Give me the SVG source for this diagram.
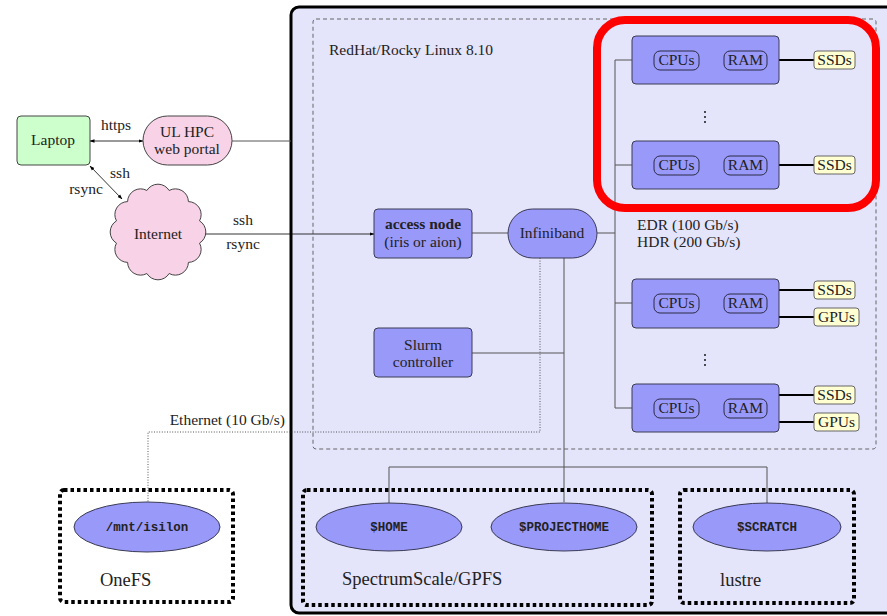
<svg xmlns="http://www.w3.org/2000/svg" width="887" height="616" viewBox="0 0 887 616">
<defs>
<marker id="ah" viewBox="0 0 10 10" refX="9" refY="5" markerWidth="5" markerHeight="5" orient="auto-start-reverse" markerUnits="userSpaceOnUse"><path d="M0,1.5 L10,5 L0,8.5 Z" fill="#000"/></marker>
<style>
text{font-family:"Liberation Serif","DejaVu Serif",serif;font-size:15.5px;fill:#222}
.c{text-anchor:middle}
.big{font-size:18.5px}
.mono{font-family:"Liberation Mono","DejaVu Sans Mono",monospace;font-size:12.5px;font-weight:bold;fill:#222}
.node{fill:#9999fa;stroke:#3a3a55;stroke-width:1}
.pill{fill:none;stroke:#2a2a45;stroke-width:1}
.ssd{fill:#ffffd2;stroke:#666;stroke-width:1}
.ln{fill:none;stroke:#555;stroke-width:1}
.thick{fill:none;stroke:#000;stroke-width:2}
.fsbox{fill:none;stroke:#000;stroke-width:4;stroke-dasharray:3.5 3}
.ell{fill:#9999fa;stroke:#3a3a55;stroke-width:1}
</style>
</defs>
<rect width="887" height="616" fill="#fff"/>
<!-- main cluster area -->
<rect x="291" y="7" width="610" height="606" rx="8" fill="#e4e4fb" stroke="#000" stroke-width="3"/>
<rect x="313" y="19" width="563" height="430" rx="3" fill="none" stroke="#666" stroke-width="1" stroke-dasharray="4 3"/>
<text x="329" y="55">RedHat/Rocky Linux 8.10</text>
<text x="637" y="230">EDR (100 Gb/s)</text>
<text x="637" y="247">HDR (200 Gb/s)</text>

<g id="connectors">
<line x1="90" y1="141" x2="143" y2="141" stroke="#000" stroke-width="0.8" marker-start="url(#ah)" marker-end="url(#ah)"/>
<line x1="90" y1="166" x2="122" y2="199" stroke="#000" stroke-width="0.8" marker-start="url(#ah)" marker-end="url(#ah)"/>
<line x1="201" y1="234" x2="374" y2="234" stroke="#000" stroke-width="0.8" marker-start="url(#ah)" marker-end="url(#ah)"/>
<line x1="232" y1="141" x2="291" y2="141" class="ln"/>
<line x1="472" y1="233" x2="508" y2="233" class="ln"/>
<line x1="597" y1="233" x2="615" y2="233" class="ln"/>
<path d="M615,60 V408 M615,60 H632 M615,165 H632 M615,303 H632 M615,408 H632" class="ln"/>
<path d="M472,353 H564 M564,258 V502 M389,503 V467 H767 V503" class="ln"/>
<path d="M540,258 V432 H148 V502" fill="none" stroke="#555" stroke-width="1" stroke-dasharray="1 1.6"/>
<path d="M779,60 H814 M779,165 H814 M779,290 H814 M779,317 H814 M779,395 H814 M779,422 H814" class="thick"/>
<text x="116" y="130" class="c">https</text>
<text x="120" y="178" class="c">ssh</text>
<text x="86" y="194" class="c">rsync</text>
<text x="243" y="225" class="c">ssh</text>
<text x="243" y="249" class="c">rsync</text>
<text x="285" y="425" text-anchor="end">Ethernet (10 Gb/s)</text>
</g>

<g id="laptop">
<rect x="17" y="116" width="73" height="49" rx="4" fill="#ccffcc" stroke="#444" stroke-width="1"/>
<text x="53" y="145" class="c">Laptop</text>
</g>
<g id="portal">
<rect x="143" y="116" width="89" height="49" rx="24.5" fill="#f8d2e6" stroke="#444" stroke-width="1"/>
<text x="187" y="137" class="c">UL HPC</text>
<text x="187" y="154" class="c">web portal</text>
</g>
<g id="internet">
<path d="M199.53,220.87 A13,13 0 0 0 188.41,201.59 A13,13 0 0 0 169.13,190.47 A13,13 0 0 0 146.87,190.47 A13,13 0 0 0 127.59,201.59 A13,13 0 0 0 116.47,220.87 A13,13 0 0 0 116.47,243.13 A13,13 0 0 0 127.59,262.41 A13,13 0 0 0 146.87,273.53 A13,13 0 0 0 169.13,273.53 A13,13 0 0 0 188.41,262.41 A13,13 0 0 0 199.53,243.13 A13,13 0 0 0 199.53,220.87 Z" fill="#f8d2e6" stroke="#444" stroke-width="1"/>
<text x="158" y="239" class="c">Internet</text>
</g>
<g id="access">
<rect x="374" y="209" width="98" height="49" rx="4" class="node"/>
<text x="423" y="229" class="c" font-weight="bold">access node</text>
<text x="423" y="247" class="c">(iris or aion)</text>
</g>
<g id="slurm">
<rect x="374" y="328" width="98" height="49" rx="4" class="node"/>
<text x="423" y="350" class="c">Slurm</text>
<text x="423" y="367" class="c">controller</text>
</g>
<g id="infiniband">
<rect x="508" y="209" width="89" height="49" rx="24.5" class="node"/>
<text x="552" y="238" class="c">Infiniband</text>
</g>

<rect x="597" y="20" width="279" height="188" rx="28" fill="none" stroke="#ff0000" stroke-width="8"/>

<g id="node1">
<rect x="632" y="36" width="147" height="48" rx="4" class="node"/>
<rect x="654" y="51" width="45" height="19" rx="6" class="pill"/><text x="676.5" y="65" class="c">CPUs</text>
<rect x="724" y="51" width="43" height="19" rx="6" class="pill"/><text x="745.5" y="65" class="c">RAM</text>
<rect x="814" y="51" width="41" height="18" rx="3" class="ssd"/><text x="834.5" y="65" class="c">SSDs</text>
</g>
<g id="dots1"><circle cx="705" cy="112" r="0.9" fill="#000"/><circle cx="705" cy="117" r="0.9" fill="#000"/><circle cx="705" cy="122" r="0.9" fill="#000"/></g>
<g id="node2">
<rect x="632" y="141" width="147" height="48" rx="4" class="node"/>
<rect x="654" y="156" width="45" height="19" rx="6" class="pill"/><text x="676.5" y="170" class="c">CPUs</text>
<rect x="724" y="156" width="43" height="19" rx="6" class="pill"/><text x="745.5" y="170" class="c">RAM</text>
<rect x="814" y="156" width="41" height="18" rx="3" class="ssd"/><text x="834.5" y="170" class="c">SSDs</text>
</g>
<g id="node3">
<rect x="632" y="279" width="147" height="49" rx="4" class="node"/>
<rect x="654" y="294" width="45" height="19" rx="6" class="pill"/><text x="676.5" y="308" class="c">CPUs</text>
<rect x="724" y="294" width="43" height="19" rx="6" class="pill"/><text x="745.5" y="308" class="c">RAM</text>
<rect x="814" y="281" width="41" height="18" rx="3" class="ssd"/><text x="834.5" y="295" class="c">SSDs</text>
<rect x="814" y="308" width="45" height="18" rx="3" class="ssd"/><text x="836.5" y="322" class="c">GPUs</text>
</g>
<g id="dots2"><circle cx="705" cy="355" r="0.9" fill="#000"/><circle cx="705" cy="360" r="0.9" fill="#000"/><circle cx="705" cy="365" r="0.9" fill="#000"/></g>
<g id="node4">
<rect x="632" y="384" width="147" height="48" rx="4" class="node"/>
<rect x="654" y="399" width="45" height="19" rx="6" class="pill"/><text x="676.5" y="413" class="c">CPUs</text>
<rect x="724" y="399" width="43" height="19" rx="6" class="pill"/><text x="745.5" y="413" class="c">RAM</text>
<rect x="814" y="386" width="41" height="18" rx="3" class="ssd"/><text x="834.5" y="400" class="c">SSDs</text>
<rect x="814" y="413" width="45" height="18" rx="3" class="ssd"/><text x="836.5" y="427" class="c">GPUs</text>
</g>

<g id="onefs">
<rect x="60" y="490" width="173" height="112" rx="4" class="fsbox"/>
<ellipse cx="147" cy="527" rx="73" ry="25" class="ell"/>
<text x="147" y="531" class="mono" text-anchor="middle">/mnt/isilon</text>
<text x="100" y="586" class="big">OneFS</text>
</g>
<g id="gpfs">
<rect x="303" y="490" width="349" height="115" rx="4" class="fsbox"/>
<ellipse cx="389" cy="527" rx="73" ry="24" class="ell"/>
<text x="389" y="531" class="mono" text-anchor="middle">$HOME</text>
<ellipse cx="564" cy="527" rx="73" ry="24" class="ell"/>
<text x="564" y="531" class="mono" text-anchor="middle">$PROJECTHOME</text>
<text x="342" y="585" class="big">SpectrumScale/GPFS</text>
</g>
<g id="lustre">
<rect x="680" y="490" width="174" height="113" rx="4" class="fsbox"/>
<ellipse cx="767" cy="527" rx="74" ry="24" class="ell"/>
<text x="767" y="531" class="mono" text-anchor="middle">$SCRATCH</text>
<text x="720" y="586" class="big">lustre</text>
</g>
</svg>
